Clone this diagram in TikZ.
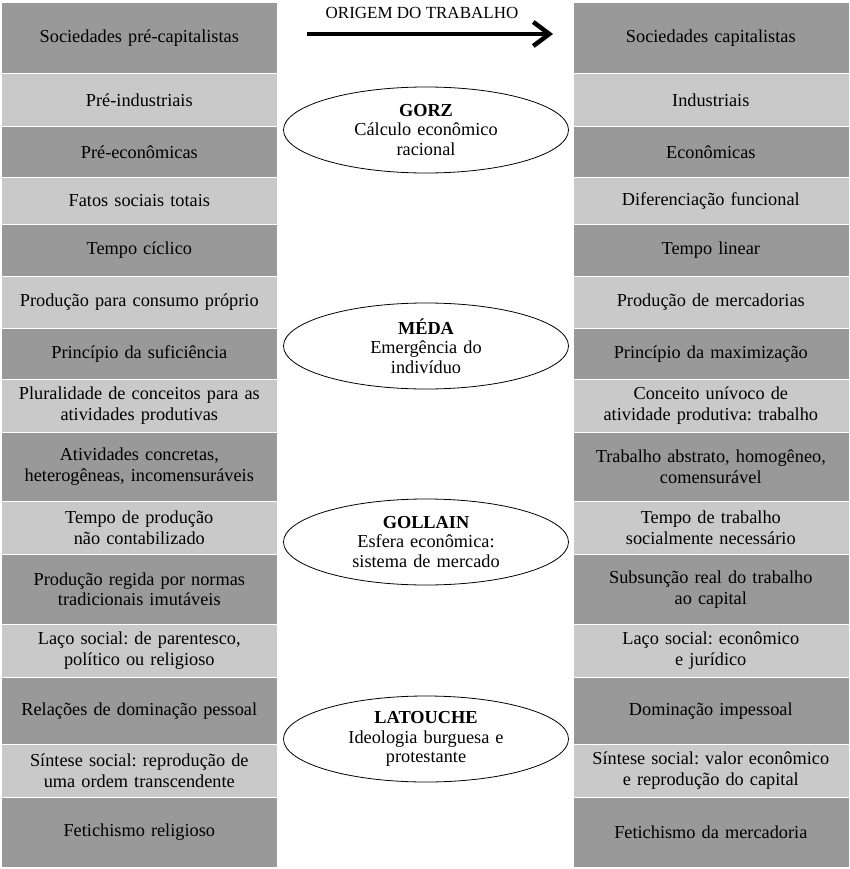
\documentclass[tikz,border=0pt]{standalone}
\usepackage{fontspec}
\setmainfont{Liberation Serif}
\usepackage{xcolor}
\usepackage{tikz}
\usetikzlibrary{positioning,arrows.meta,shapes.geometric}

\definecolor{rowdark}{gray}{0.6}
\definecolor{rowlight}{gray}{0.79}
\frenchspacing

\begin{document}
\begin{tikzpicture}[
  x=1pt, y=-1pt,
  every node/.style={font=\fontsize{18.3}{20.7}\selectfont},
  cell/.style={draw=white, line width=0.6pt, inner sep=0pt, align=center, text width=270pt, minimum width=276pt, anchor=north west},
  author/.style={ellipse, draw, line width=0.8pt, fill=white, minimum width=285pt, minimum height=86pt, inner sep=0pt, align=center, text width=170pt, font=\fontsize{18.3}{19.4}\selectfont},
  heading/.style={font=\fontsize{17}{20}\selectfont}
]
\useasboundingbox (0,0) rectangle (850,869);

% two columns of rows
\foreach \i/\ya/\yb/\shade/\ltext/\rtext in {
  1/2/73/rowdark/{Sociedades pré-capitalistas}/{Sociedades capitalistas},
  2/73/126/rowlight/{Pré-industriais}/{Industriais},
  3/126/177/rowdark/{Pré-econômicas}/{Econômicas},
  4/177/224/rowlight/{Fatos sociais totais}/{Diferenciação funcional},
  5/224/276/rowdark/{Tempo cíclico}/{Tempo linear},
  6/276/328/rowlight/{Produção para consumo próprio}/{Produção de mercadorias},
  7/328/379/rowdark/{Princípio da suficiência}/{Princípio da maximização},
  8/379/432/rowlight/{Pluralidade de conceitos para as\\atividades produtivas}/{Conceito unívoco de\\atividade produtiva: trabalho},
  9/432/501/rowdark/{Atividades concretas,\\heterogêneas, incomensuráveis}/{Trabalho abstrato, homogêneo,\\comensurável},
  10/501/554/rowlight/{Tempo de produção\\não contabilizado}/{Tempo de trabalho\\socialmente necessário},
  11/554/624/rowdark/{Produção regida por normas\\tradicionais imutáveis}/{Subsunção real do trabalho\\ao capital},
  12/624/677/rowlight/{Laço social: de parentesco,\\político ou religioso}/{Laço social: econômico\\e jurídico},
  13/677/744/rowdark/{Relações de dominação pessoal}/{Dominação impessoal},
  14/744/797/rowlight/{Síntese social: reprodução de\\uma ordem transcendente}/{Síntese social: valor econômico\\e reprodução do capital},
  15/797/867/rowdark/{Fetichismo religioso}/{Fetichismo da mercadoria}
}{
  \node[cell, fill=\shade, minimum height={\yb-\ya}] (L\i) at (1,\ya) {\ltext};
  \node[cell, fill=\shade, minimum height={\yb-\ya}] (R\i) at (572.5,\ya) {\rtext};
}

% heading and arrow
\node[heading] (title) at (422,13) {ORIGEM DO TRABALHO};
\coordinate (arrS) at (307,34);
\coordinate (arrE) at (553,34);
\draw[line width=4.5pt, -{Straight Barb[length=16pt,width=24pt]}] (arrS) -- (arrE);

% authors
\foreach \n/\y/\name/\la/\lb in {
  gorz/130/GORZ/Cálculo econômico/racional,
  meda/346/MÉDA/Emergência do/indivíduo,
  gollain/542/GOLLAIN/Esfera econômica:/sistema de mercado,
  latouche/739/LATOUCHE/Ideologia burguesa e/protestante
}{
  \node[author] (\n) at (426,\y) {\textbf{\name}\\\la\\\lb};
}
\end{tikzpicture}
\end{document}
